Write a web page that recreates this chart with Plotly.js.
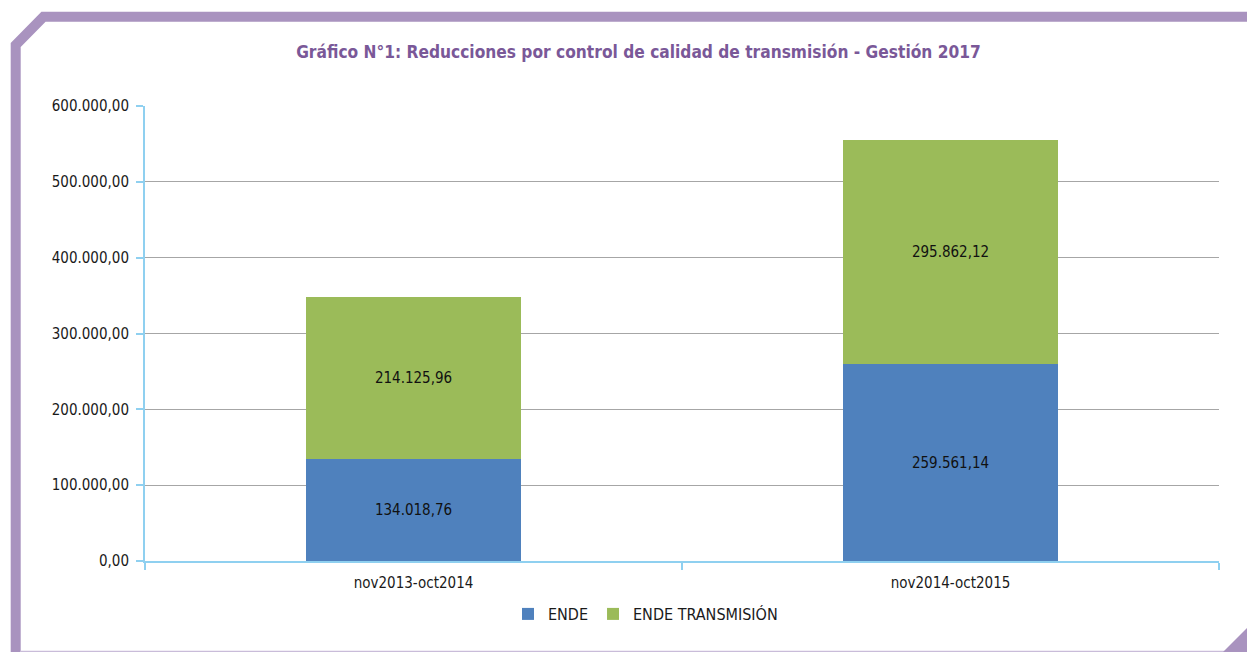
<!DOCTYPE html>
<html>
<head>
<meta charset="utf-8">
<script src="https://cdn.plot.ly/plotly-3.0.1.min.js"></script>
<style>
  html, body { margin: 0; padding: 0; background: #ffffff; }
  #wrap { position: relative; width: 1247px; height: 652px; overflow: hidden; }
  #frame { position: absolute; left: 0; top: 0; z-index: 0; }
  #chart { position: absolute; left: 0; top: 0; width: 1247px; height: 652px; z-index: 1; }
</style>
</head>
<body>
<div id="wrap">
  <svg id="frame" width="1247" height="652">
    <polyline points="15.7,700 15.7,45 43.5,16.8 1260,16.8" fill="none" stroke="#a993bf" stroke-width="10" stroke-linejoin="miter"/>
    <line x1="20" y1="651.5" x2="1225" y2="651.5" stroke="#c9bcd9" stroke-width="1.5"/>
    <polygon points="1223,652 1247,628 1247,652" fill="#a993bf"/>
  </svg>
  <div id="chart"></div>
</div>
<script>
const categories = ["nov2013-oct2014", "nov2014-oct2015"];
const endeValues = [134018.76, 259561.14];
const transValues = [214125.96, 295862.12];
const seriesNames = ["ENDE", "ENDE TRANSMISIÓN"];
const chartTitle = "Gráfico N°1: Reducciones por control de calidad de transmisión - Gestión 2017";

const FONT = "'DejaVu Sans Condensed', 'Liberation Sans Narrow', 'Arial Narrow', sans-serif";
const TXT = "#1a1a1a";

const traces = [
  {
    type: "bar", name: seriesNames[0], x: categories, y: endeValues,
    marker: { color: "#4f81bd" },
    texttemplate: "%{y:,.2f}", textposition: "inside", insidetextanchor: "middle",
    textangle: 0, textfont: { color: "#111111", size: 15, family: FONT },
    hoverinfo: "none"
  },
  {
    type: "bar", name: seriesNames[1], x: categories, y: transValues,
    marker: { color: "#9bbb59" },
    texttemplate: "%{y:,.2f}", textposition: "inside", insidetextanchor: "middle",
    textangle: 0, textfont: { color: "#111111", size: 15, family: FONT },
    hoverinfo: "none"
  }
];

const layout = {
  width: 1247, height: 652,
  paper_bgcolor: "rgba(0,0,0,0)", plot_bgcolor: "rgba(0,0,0,0)",
  separators: ",.",
  barmode: "stack", bargap: 0.6,
  font: { family: FONT, size: 15, color: TXT },
  margin: { l: 145, r: 28, t: 106, b: 91 },
  title: {
    text: "<b>" + chartTitle + "</b>",
    font: { family: FONT, size: 17.2, color: "#7a5898" },
    xref: "container", x: 0.512, xanchor: "center",
    yref: "container", y: 1 - 52 / 652, yanchor: "middle"
  },
  xaxis: {
    type: "category",
    showline: true, linecolor: "#8fd0f0", linewidth: 2,
    ticks: "outside", tickson: "boundaries", ticklen: 7, tickcolor: "#8fd0f0", tickwidth: 2,
    ticklabelstandoff: 7,
    showgrid: false, zeroline: false,
    tickfont: { family: FONT, size: 15, color: TXT }
  },
  yaxis: {
    range: [0, 600000], dtick: 100000, tick0: 0,
    tickformat: ",.2f",
    showline: true, linecolor: "#8fd0f0", linewidth: 2,
    ticks: "outside", ticklen: 7, tickcolor: "#8fd0f0", tickwidth: 2,
    ticklabelstandoff: 4,
    showgrid: true, gridcolor: "#a6a6a6", gridwidth: 1,
    zeroline: false,
    tickfont: { family: FONT, size: 15, color: TXT }
  },
  showlegend: true,
  legend: {
    orientation: "h", x: 0.466, xanchor: "center", y: -0.1165, yanchor: "middle",
    font: { family: FONT, size: 16, color: TXT },
    traceorder: "normal", itemwidth: 30
  },
  hovermode: false
};

Plotly.newPlot("chart", traces, layout, { displayModeBar: false, staticPlot: true });
</script>
</body>
</html>
